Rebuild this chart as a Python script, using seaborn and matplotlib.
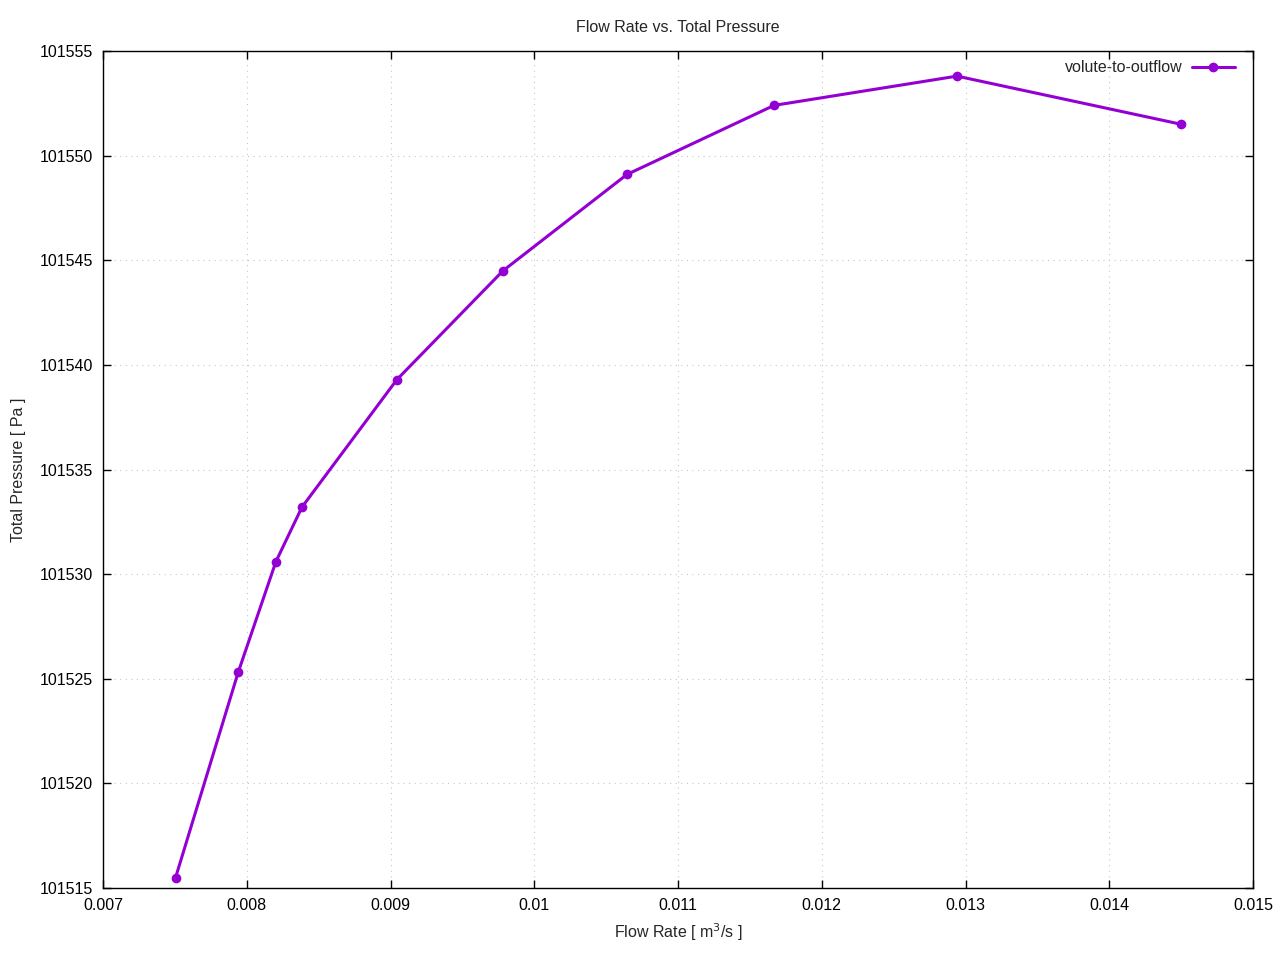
import matplotlib
matplotlib.use("Agg")
import matplotlib.pyplot as plt
import seaborn as sns
import pandas as pd

flow_rate = [0.007505, 0.00794, 0.008203, 0.008384, 0.009045, 0.009783, 0.010645, 0.011668, 0.012941, 0.014499]
total_pressure = [101515.5, 101525.3, 101530.6, 101533.2, 101539.3, 101544.5, 101549.1, 101552.4, 101553.8, 101551.5]
series_name = "volute-to-outflow"
x_ticks = [0.007, 0.008, 0.009, 0.010, 0.011, 0.012, 0.013, 0.014, 0.015]
x_tick_labels = ["0.007", "0.008", "0.009", "0.01", "0.011", "0.012", "0.013", "0.014", "0.015"]
y_ticks = [101515, 101520, 101525, 101530, 101535, 101540, 101545, 101550, 101555]

df = pd.DataFrame({"x": flow_rate, "y": total_pressure, "s": series_name})

sns.set_style("ticks")
plt.rcParams['font.family'] = ['Liberation Sans', 'DejaVu Sans']

fig = plt.figure(figsize=(12.8, 9.6), dpi=100)
ax = fig.add_axes([103/1280, 1-888/960, (1253-103)/1280, (888-51)/960])

sns.lineplot(data=df, x="x", y="y", hue="s", palette=["#9400D3"], marker="o",
             markersize=7, markeredgewidth=0, linewidth=2.2, ax=ax, sort=False)

ax.set_xlim(0.007, 0.015)
ax.set_ylim(101515, 101555)
ax.set_xticks(x_ticks)
ax.set_xticklabels(x_tick_labels)
ax.set_yticks(y_ticks)
ax.set_yticklabels([str(v) for v in y_ticks])
ax.tick_params(direction="in", length=6, width=1, top=True, right=True, labelsize=11.5, colors="black", pad=7)
for sp in ax.spines.values():
    sp.set_visible(True)
    sp.set_linewidth(1)
    sp.set_color("black")
ax.grid(True, linestyle=(0, (1, 4)), color="#c8c8c8", linewidth=0.8)

ax.set_xlabel("Flow Rate [ m$^3$/s ]", fontsize=11.5, labelpad=6)
ax.set_ylabel("Total Pressure [ Pa ]", fontsize=11.5, labelpad=10)
ax.set_title("Flow Rate vs. Total Pressure", fontsize=11.5, pad=14)

leg = ax.legend(loc="upper right", bbox_to_anchor=(1 - 7/1150, 1 + 2/837), frameon=False,
                markerfirst=False, fontsize=11.5, handlelength=2.7, handletextpad=0.6,
                borderaxespad=0.3)

fig.savefig("out.png", dpi=100)
